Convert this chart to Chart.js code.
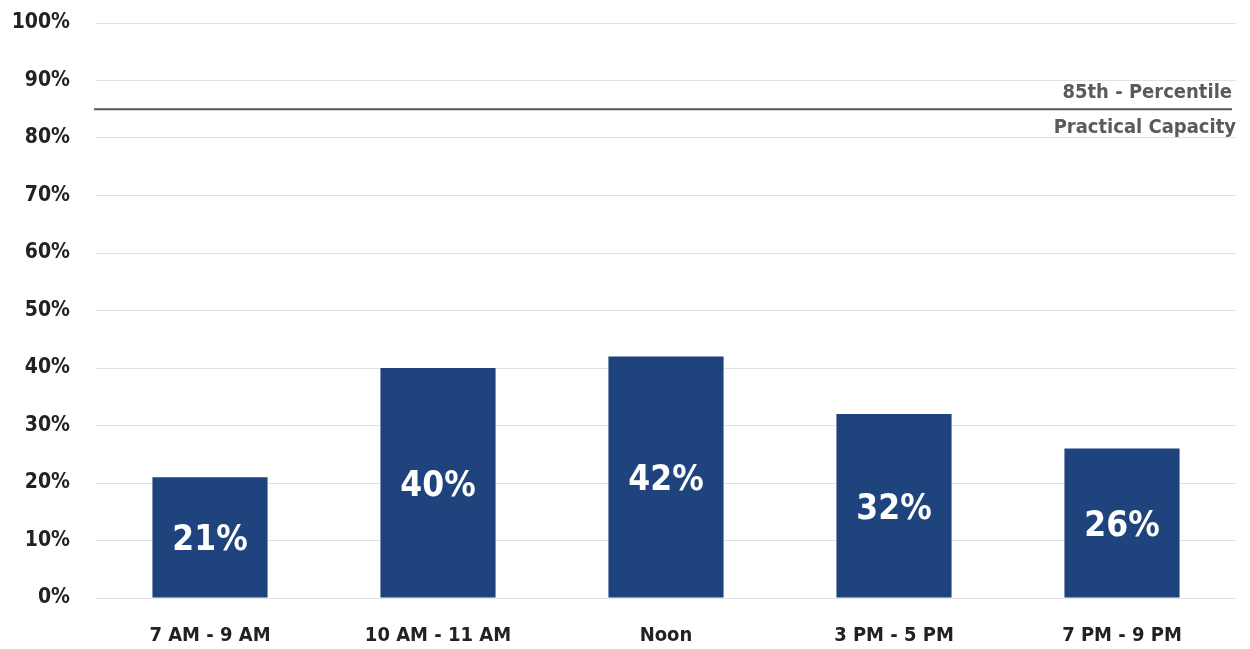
<!DOCTYPE html>
<html>
<head>
<meta charset="utf-8">
<title>Parking occupancy by time of day</title>
<script src="https://cdn.jsdelivr.net/npm/chart.js@4.4.1/dist/chart.umd.min.js"></script>
<style>
	html, body { margin: 0; padding: 0; background: #fff; }
	#wrap { width: 1250px; height: 649px; }
</style>
</head>
<body>
<div id="wrap"><canvas id="occupancy"></canvas></div>
<script>
const timeSlots = ['7 AM - 9 AM', '10 AM - 11 AM', 'Noon', '3 PM - 5 PM', '7 PM - 9 PM'];
const occupancy = [21, 40, 42, 32, 26];
const practicalCapacity = 85;
const capacityLabels = ['85th - Percentile', 'Practical Capacity'];

const FONT = '"DejaVu Sans Condensed", "DejaVu Sans", sans-serif';

// Percent labels centred inside each bar
const barLabels = {
	id: 'barLabels',
	afterDatasetsDraw(chart) {
		const ctx = chart.ctx;
		const meta = chart.getDatasetMeta(0);
		ctx.save();
		ctx.fillStyle = '#ffffff';
		ctx.font = 'bold 35px ' + FONT;
		ctx.textAlign = 'center';
		ctx.textBaseline = 'middle';
		meta.data.forEach((bar, i) => {
			const mid = (bar.y + bar.base) / 2;
			ctx.fillText(occupancy[i] + '%', bar.x, mid + 4);
		});
		ctx.restore();
	}
};

// Horizontal capacity line with its caption on the right
const capacityLine = {
	id: 'capacityLine',
	afterDatasetsDraw(chart) {
		const ctx = chart.ctx;
		const area = chart.chartArea;
		const y = chart.scales.y.getPixelForValue(practicalCapacity);
		ctx.save();
		ctx.strokeStyle = '#555555';
		ctx.lineWidth = 2;
		ctx.beginPath();
		ctx.moveTo(area.left - 2, y);
		ctx.lineTo(area.right - 4, y);
		ctx.stroke();
		ctx.fillStyle = '#5a5a5a';
		ctx.font = 'bold 20px ' + FONT;
		ctx.textAlign = 'right';
		ctx.textBaseline = 'middle';
		ctx.fillText(capacityLabels[0], area.right - 4, y - 16);
		ctx.fillText(capacityLabels[1], area.right, y + 19);
		ctx.restore();
	}
};

new Chart(document.getElementById('occupancy'), {
	type: 'bar',
	data: {
		labels: timeSlots,
		datasets: [{
			label: 'Occupancy',
			data: occupancy,
			backgroundColor: '#1e437d',
			categoryPercentage: 1,
			barPercentage: 0.505
		}]
	},
	options: {
		responsive: true,
		maintainAspectRatio: false,
		animation: false,
		layout: {
			padding: { top: 23, right: 14, left: 0, bottom: 0 }
		},
		plugins: {
			legend: { display: false },
			tooltip: { enabled: false }
		},
		scales: {
			x: {
				grid: { display: false },
				border: { display: false },
				ticks: {
					color: '#222222',
					padding: 18,
					font: { family: FONT, size: 20, weight: 'bold' }
				},
				afterFit: (scale) => { scale.height = 51; }
			},
			y: {
				min: 0,
				max: 100,
				grid: { color: '#e2e2e2', lineWidth: 1, drawTicks: false },
				border: { display: false },
				ticks: {
					stepSize: 10,
					color: '#222222',
					padding: 26,
					font: { family: FONT, size: 21, weight: 'bold' },
					callback: (v) => v + '%'
				},
				afterFit: (scale) => {
					scale.width = 96;
					// tick padding only pushes labels sideways, not the plot top
					scale.paddingTop = 0;
					scale.paddingBottom = 0;
				}
			}
		}
	},
	plugins: [barLabels, capacityLine]
});
</script>
</body>
</html>
